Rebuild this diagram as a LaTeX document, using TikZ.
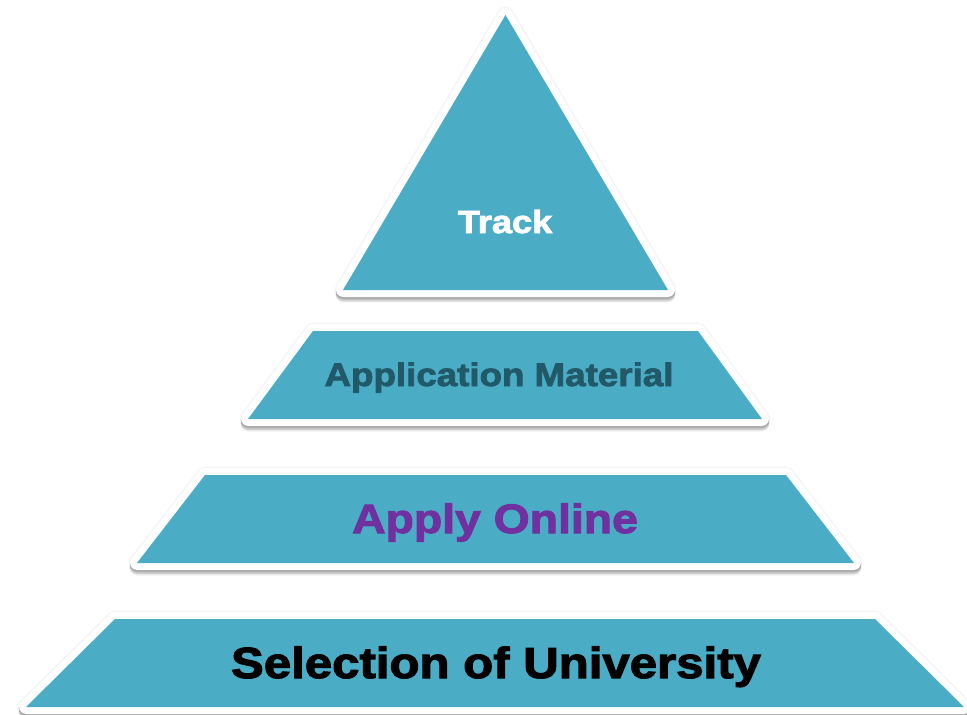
\documentclass[tikz,border=0pt]{standalone}
\usepackage{fontspec}
\newfontfamily\tierfont[FakeBold=2.5,FakeStretch=1.13]{Liberation Sans Bold}
\definecolor{tierblue}{HTML}{4BACC6}
\definecolor{tierteal}{HTML}{215968}
\definecolor{tierpurple}{HTML}{7030A0}

% one level of the pyramid: faint glow, soft shadow, white rim, blue body
\newcommand\pyrtier[1]{%
  \draw[tierglow] #1 -- cycle;
  \foreach \d in {1,2,3,4,5}
    \draw[tiershadow, yshift=-\d pt] #1 -- cycle;
  \draw[tierrim] #1 -- cycle;
  \fill[tierbody] #1 -- cycle;}

\begin{document}
\begin{tikzpicture}[x=1pt,y=-1pt,
  tierglow/.style={fill=black, draw=black, line width=17pt, line join=round, opacity=0.04},
  tiershadow/.style={fill=black, draw=black, line width=14.5pt, line join=round, opacity=0.08},
  tierrim/.style={fill=white, draw=white, line width=14pt, line join=round},
  tierbody/.style={fill=tierblue},
  tierlabel/.style={anchor=base, inner sep=0pt, font=\tierfont}]
\useasboundingbox (0,0) rectangle (967,715);

% top: triangle
\pyrtier{(505.5,15) -- (668,290) -- (343,290)}
\node[tierlabel, text=white, font=\tierfont\fontsize{32}{32}\selectfont] (track) at (505,233) {Track};

% second level
\pyrtier{(313,331) -- (698,331) -- (762,419) -- (248,419)}
\node[tierlabel, text=tierteal, font=\tierfont\fontsize{32.5}{32}\selectfont] (material) at (499,386) {Application Material};

% third level
\pyrtier{(205,475) -- (786,475) -- (854,563) -- (137,563)}
\node[tierlabel, text=tierpurple, font=\tierfont\fontsize{41}{41}\selectfont] (online) at (495,533) {Apply Online};

% bottom level
\pyrtier{(115,619) -- (875,619) -- (964,707) -- (26,707)}
\node[tierlabel, text=black, font=\tierfont\fontsize{43.5}{44}\selectfont] (univ) at (496,678) {Selection of University};
\end{tikzpicture}
\end{document}
